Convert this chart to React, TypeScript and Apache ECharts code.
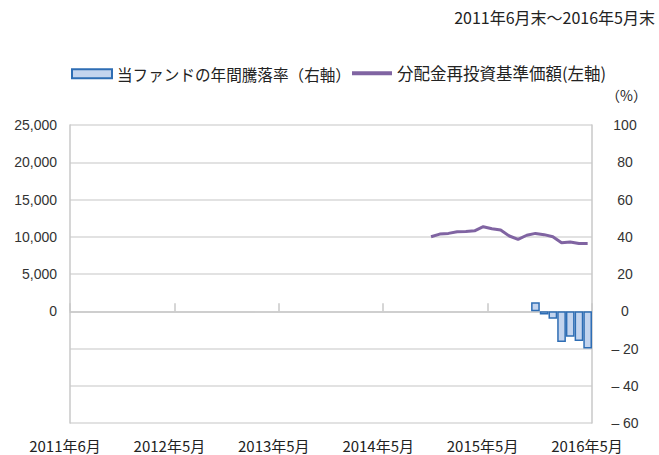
import React, { useEffect, useRef } from "react";
import * as echarts from "echarts";

const startYear = 2011;
const startMonth = 6;
const monthCount = 60;
const months: string[] = [];
for (let i = 0; i < monthCount; i++) {
  const m = startMonth - 1 + i;
  months.push(`${startYear + Math.floor(m / 12)}年${(m % 12) + 1}月`);
}

const xTickLabels = ["2011年6月", "2012年5月", "2013年5月", "2014年5月", "2015年5月", "2016年5月"];

// 分配金再投資基準価額 (2014年11月〜2016年5月)
const navStartIndex = 41;
const navValues = [10000, 10360, 10450, 10680, 10720, 10800, 11350, 11080, 10900, 10100, 9650, 10200, 10450, 10280, 10000, 9200, 9300, 9100, 9100];

// 年間騰落率 (2015年11月〜2016年5月)
const retStartIndex = 53;
const retValues = [4.8, -1.7, -4.0, -16.5, -13.7, -16.0, -20.0];

const barName = "当ファンドの年間騰落率（右軸）";
const lineName = "分配金再投資基準価額(左軸)";

const cjk = '"Noto Sans CJK JP", "Noto Sans", sans-serif';
const num = '"Liberation Sans", Arial, sans-serif';

export default function App() {
  const ref = useRef<HTMLDivElement>(null);
  useEffect(() => {
    if (!ref.current) return;
    const chart = echarts.init(ref.current, null, { renderer: "svg" });
    const navData = months.map((_, i) =>
      i >= navStartIndex && i < navStartIndex + navValues.length ? navValues[i - navStartIndex] : null
    );
    const retData = months.map((_, i) =>
      i >= retStartIndex && i < retStartIndex + retValues.length ? retValues[i - retStartIndex] : null
    );
    chart.setOption({
      animation: false,
      backgroundColor: "#ffffff",
      grid: { left: 70, right: 67, top: 125, bottom: 32, containLabel: false },
      legend: [
        {
          left: 66,
          top: 61,
          itemWidth: 40,
          itemHeight: 9,
          textStyle: { fontFamily: cjk, fontSize: 15.6, color: "#222" },
          data: [{ name: barName, icon: "rect" }],
        },
        {
          left: 347,
          top: 60,
          itemWidth: 40,
          itemHeight: 4,
          itemGap: 0,
          textStyle: { fontFamily: cjk, fontSize: 16.5, color: "#222" },
          data: [{ name: lineName, icon: "rect" }],
        },
      ],
      xAxis: [
        {
          type: "category",
          data: months,
          show: false,
          position: "bottom",
          boundaryGap: true,
        },
        {
          type: "value",
          position: "bottom",
          min: 0,
          max: 60,
          interval: 12,
          axisLine: { show: true, lineStyle: { color: "#c8c8c8", width: 1.5 } },
          axisTick: { show: true, inside: true, length: 8, lineStyle: { color: "#c8c8c8", width: 1.5 } },
          splitLine: { show: false },
          axisLabel: {
            margin: 15,
            fontFamily: cjk,
            fontSize: 15,
            color: "#222",
            padding: [0, 10, 0, 0],
            showMinLabel: true,
            showMaxLabel: true,
            formatter: (v: number) => xTickLabels[Math.round(v / 12)] ?? "",
          },
        },
      ],
      yAxis: [
        {
          type: "value",
          position: "left",
          min: -15000,
          max: 25000,
          interval: 5000,
          axisLine: { show: true, lineStyle: { color: "#c8c8c8", width: 1.5 } },
          axisTick: { show: false },
          splitLine: { show: true, lineStyle: { color: "#d9d9d9", width: 1.5 } },
          axisLabel: {
            margin: 13,
            fontFamily: num,
            fontSize: 14,
            color: "#333",
            formatter: (v: number) => (v < 0 ? "" : v.toLocaleString("en-US")),
          },
        },
        {
          type: "value",
          position: "right",
          min: -60,
          max: 100,
          interval: 20,
          axisLine: { show: true, lineStyle: { color: "#c8c8c8", width: 1.5 } },
          axisTick: { show: false },
          splitLine: { show: false },
          axisLabel: {
            margin: 33,
            align: "center",
            fontFamily: num,
            fontSize: 14,
            color: "#333",
            formatter: (v: number) => (v < 0 ? `– ${Math.abs(v)}` : `${v}`),
          },
        },
      ],
      series: [
        {
          name: barName,
          type: "bar",
          xAxisIndex: 0,
          yAxisIndex: 1,
          data: retData,
          barWidth: "100%",
          itemStyle: { color: "#c3d4ee", borderColor: "#2e6db4", borderWidth: 1.5 },
        },
        {
          name: lineName,
          type: "line",
          xAxisIndex: 0,
          yAxisIndex: 0,
          data: navData,
          symbol: "none",
          showSymbol: false,
          connectNulls: false,
          lineStyle: { color: "#8064a2", width: 3 },
          itemStyle: { color: "#8064a2" },
        },
      ],
      graphic: [
        {
          type: "text",
          right: 4,
          top: 9,
          style: { text: "2011年6月末～2016年5月末", fontFamily: cjk, fontSize: 16, fill: "#222" },
        },
        {
          type: "text",
          left: 606,
          top: 88,
          style: { text: "（%）", fontFamily: cjk, fontSize: 14, fill: "#222" },
        },
      ],
    });
    return () => chart.dispose();
  }, []);
  return (
    <div
      ref={ref}
      style={{ position: "fixed", left: 0, top: 0, width: 659, height: 455 }}
    />
  );
}
